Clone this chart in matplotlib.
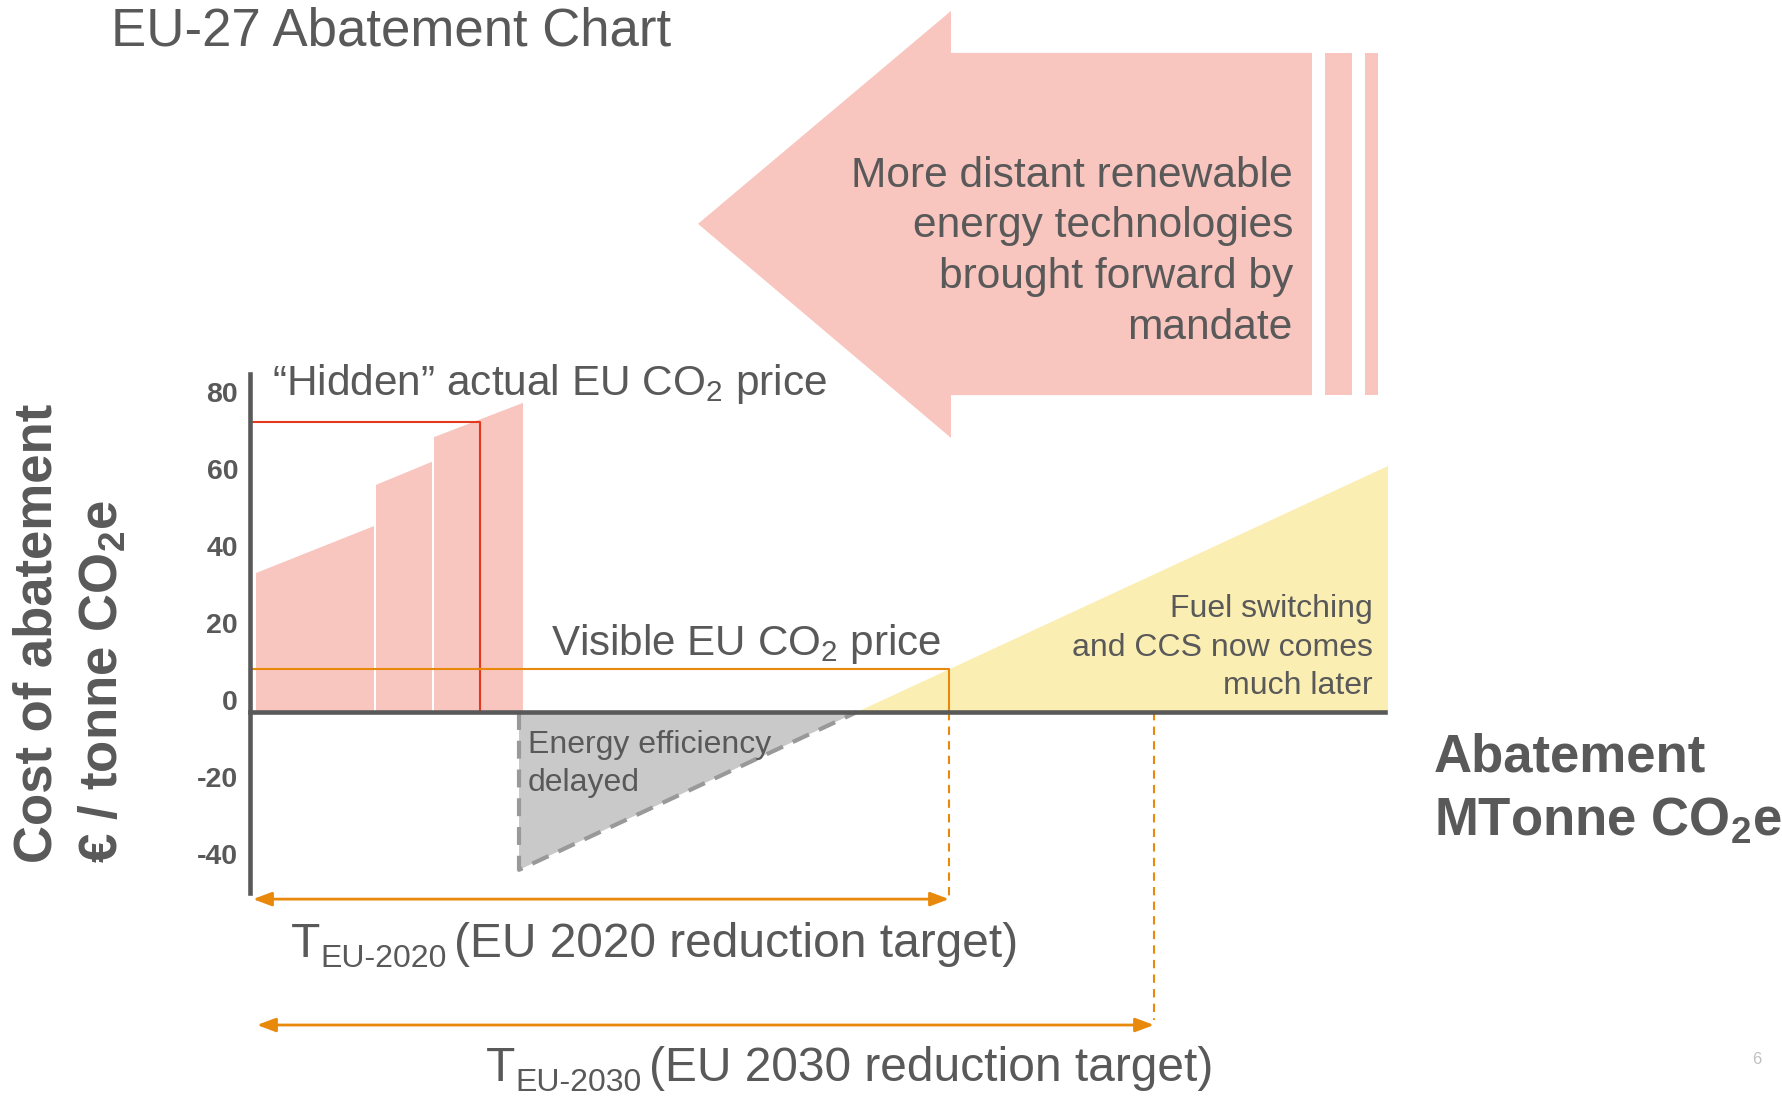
import matplotlib
matplotlib.use('Agg')
import matplotlib.pyplot as plt
from matplotlib.patches import Polygon
from matplotlib.transforms import ScaledTranslation
import matplotlib.patheffects as pe

plt.rcParams['font.family'] = ['Liberation Sans', 'DejaVu Sans']
plt.rcParams['mathtext.fontset'] = 'custom'
plt.rcParams['mathtext.rm'] = 'Liberation Sans'
plt.rcParams['mathtext.bf'] = 'Liberation Sans:bold'

# ---------------- data ----------------
y_ticks = [-40, -20, 0, 20, 40, 60, 80]
y_tick_labels = ['-40', '-20', '0', '20', '40', '60', '80']

# abatement measures (x in MTonne, schematic; y in EUR / tonne)
bar_left = [0.6, 12.6, 18.4]
bar_right = [12.4, 18.2, 27.3]
bar_top_left = [36.1, 59.0, 71.4]
bar_top_right = [48.3, 65.0, 80.3]

hidden_price = 75.3
hidden_x = 23.0
visible_price = 11.2
target_2020 = 69.9
target_2030 = 90.4

ee_x = [26.9, 26.9, 60.7]
ee_y = [0.0, -41.0, 0.0]
fs_x = [60.7, 113.8, 113.8]
fs_y = [0.0, 63.9, 0.0]

big_arrow_x = [44.8, 70.1, 70.1, 106.2, 106.2, 70.1, 70.1]
big_arrow_y = [126.8, 182.1, 171.2, 171.2, 82.3, 82.3, 71.2]
stripes = [(107.5, 110.2), (111.5, 112.8)]

# ---------------- style ----------------
TXT = '#595959'
PINK = '#F8C6BF'
RED = '#E3391F'
ORANGE = '#E8890C'
YELLOW = '#FBEEB2'
GREYFILL = '#C9C9C9'
GREYEDGE = '#999999'

W, H = 1783, 1096
fig = plt.figure(figsize=(W / 100, H / 100), dpi=100)
ax = fig.add_axes([0, 0, 1, 1])
ax.set_xlim(-25, 153.3)
ax.set_ylim(-99.74, 184.94)
ax.patch.set_alpha(0)


def fx(px):
    return px / W


def fy(py):
    return 1 - py / H


# axes spines
for s in ['top', 'right']:
    ax.spines[s].set_visible(False)
ax.spines['left'].set_position(('data', 0))
ax.spines['bottom'].set_position(('data', 0))
ax.spines['left'].set_bounds(-47, 87.8)
ax.spines['bottom'].set_bounds(0, 113.5)
for s in ['left', 'bottom']:
    ax.spines[s].set_linewidth(3.3)
    ax.spines[s].set_color(TXT)
    ax.spines[s].set_zorder(5)
    ax.spines[s].set_path_effects([
        pe.SimplePatchShadow(offset=(1.5, -2.5), shadow_rgbFace='#000000', alpha=0.12),
        pe.Normal()])
ax.set_xticks([])
ax.set_yticks(y_ticks)
ax.set_yticklabels(y_tick_labels)
ax.tick_params(axis='y', length=0, pad=8.6, labelsize=20.5, labelcolor=TXT)
for lbl in ax.get_yticklabels():
    lbl.set_fontweight('bold')
    lbl.set_transform(lbl.get_transform() + ScaledTranslation(0, 0.12, fig.dpi_scale_trans))

# big pink arrow
ax.add_patch(Polygon(list(zip(big_arrow_x, big_arrow_y)), closed=True,
                     facecolor=PINK, edgecolor='none', zorder=1))
for x0, x1 in stripes:
    ax.fill_between([x0, x1], [big_arrow_y[4]] * 2, [big_arrow_y[2]] * 2,
                    facecolor=PINK, edgecolor='none', zorder=1)

# bars
for l, r, tl, tr in zip(bar_left, bar_right, bar_top_left, bar_top_right):
    ax.fill_between([l, r], [0, 0], [tl, tr], facecolor=PINK, edgecolor='none', zorder=1)

# yellow triangle (fuel switching)
ax.add_patch(Polygon(list(zip(fs_x, fs_y)), closed=True, facecolor=YELLOW,
                     edgecolor='none', zorder=1))
# grey triangle (energy efficiency)
ax.add_patch(Polygon(list(zip(ee_x, ee_y)), closed=True, facecolor=GREYFILL,
                     edgecolor='none', zorder=1))
ax.plot(ee_x, ee_y, color=GREYEDGE, lw=3, linestyle=(0, (4.3, 2.6)),
        dash_capstyle='butt', zorder=2)

# hidden price lines
ax.plot([0, hidden_x, hidden_x], [hidden_price, hidden_price, 0], color=RED, lw=1.5, zorder=3)
# visible price lines
ax.plot([0, target_2020, target_2020], [visible_price, visible_price, 0], color=ORANGE,
        lw=1.5, zorder=3)
ax.plot([target_2020, target_2020], [0, -48], color=ORANGE, lw=1.5,
        linestyle=(0, (4, 3)), zorder=3)
ax.plot([target_2030, target_2030], [0, -80], color=ORANGE, lw=1.5,
        linestyle=(0, (4, 3)), zorder=3)

# target arrows
for xs, xe, yy in [(0.3, target_2020, -48.6), (0.7, target_2030, -81.3)]:
    ax.annotate('', xy=(xs, yy), xytext=(xe, yy),
                arrowprops=dict(arrowstyle='<|-|>,head_length=0.8,head_width=0.3',
                                mutation_scale=14, color=ORANGE, lw=2,
                                shrinkA=0, shrinkB=0), zorder=3)

# ---------------- texts ----------------
fig.text(fx(111), fy(45), 'EU-27 Abatement Chart', fontsize=38, color=TXT,
         ha='left', va='baseline')

arrow_lines = ['More distant renewable', 'energy technologies',
               'brought forward by', 'mandate']
for i, t in enumerate(arrow_lines):
    fig.text(fx(1293), fy(187 + 50.5 * i), t, fontsize=30.6, color=TXT,
             ha='right', va='baseline')

fig.text(fx(272), fy(395), '\u201cHidden\u201d actual EU CO$_\\mathrm{2}$ price',
         fontsize=30.5, color=TXT, ha='left', va='baseline')
fig.text(fx(551), fy(655), 'Visible EU CO$_\\mathrm{2}$ price',
         fontsize=30.3, color=TXT, ha='left', va='baseline')

fig.text(fx(528), fy(753), 'Energy efficiency', fontsize=23, color=TXT,
         ha='left', va='baseline')
fig.text(fx(528), fy(791), 'delayed', fontsize=23, color=TXT,
         ha='left', va='baseline')

for i, t in enumerate(['Fuel switching', 'and CCS now comes', 'much later']):
    fig.text(fx(1373), fy(617 + 38.5 * i), t, fontsize=23, color=TXT,
             ha='right', va='baseline')

# y label
fig.text(fx(52), fy(863), 'Cost of abatement', fontsize=38, fontweight='bold',
         color=TXT, rotation=90, rotation_mode='anchor', ha='left', va='baseline')
fig.text(fx(117), fy(863), '\u20ac / tonne CO$_\\mathbf{2}$e', fontsize=38,
         fontweight='bold', color=TXT, rotation=90, rotation_mode='anchor',
         ha='left', va='baseline')

# x label
fig.text(fx(1434), fy(772), 'Abatement', fontsize=38, fontweight='bold',
         color=TXT, ha='left', va='baseline')
fig.text(fx(1434), fy(835), 'MTonne CO$_\\mathbf{2}$e', fontsize=38,
         fontweight='bold', color=TXT, ha='left', va='baseline')

# target labels
for x0, base, yr in [(291, 957, '2020'), (486, 1081, '2030')]:
    fig.text(fx(x0), fy(base), 'T', fontsize=34.5, color=TXT, ha='left', va='baseline')
    fig.text(fx(x0 + 29), fy(base + 10), 'EU-' + yr, fontsize=23, color=TXT,
             ha='left', va='baseline')
    fig.text(fx(x0 + 163), fy(base), '(EU ' + yr + ' reduction target)',
             fontsize=34.5, color=TXT, ha='left', va='baseline')

fig.text(fx(1757), fy(1064), '6', fontsize=12, color='#C0C0C0', ha='center',
         va='baseline')

fig.savefig('out.png', dpi=100)
